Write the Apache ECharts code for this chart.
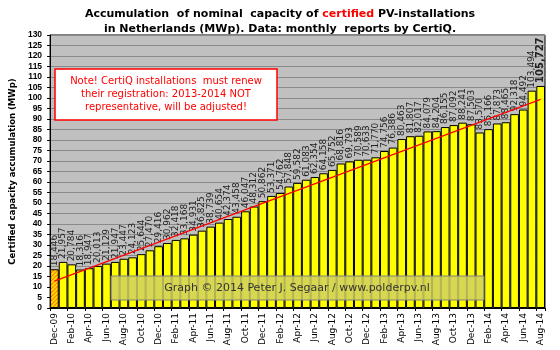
<!DOCTYPE html>
<html>
<head>
<meta charset="utf-8">
<script src="https://cdn.jsdelivr.net/npm/echarts@6/dist/echarts.min.js"></script>
<style>
  html, body { margin: 0; padding: 0; background: #fff; }
  #main { width: 560px; height: 350px; }
</style>
</head>
<body>
<div id="main"></div>
<script>
// months Dec-09 .. Aug-14
var months = [
  'Dec-09',
  'Jan-10', 'Feb-10', 'Mar-10', 'Apr-10', 'May-10', 'Jun-10', 'Jul-10', 'Aug-10', 'Sep-10', 'Oct-10', 'Nov-10', 'Dec-10',
  'Jan-11', 'Feb-11', 'Mar-11', 'Apr-11', 'May-11', 'Jun-11', 'Jul-11', 'Aug-11', 'Sep-11', 'Oct-11', 'Nov-11', 'Dec-11',
  'Jan-12', 'Feb-12', 'Mar-12', 'Apr-12', 'May-12', 'Jun-12', 'Jul-12', 'Aug-12', 'Sep-12', 'Oct-12', 'Nov-12', 'Dec-12',
  'Jan-13', 'Feb-13', 'Mar-13', 'Apr-13', 'May-13', 'Jun-13', 'Jul-13', 'Aug-13', 'Sep-13', 'Oct-13', 'Nov-13', 'Dec-13',
  'Jan-14', 'Feb-14', 'Mar-14', 'Apr-14', 'May-14', 'Jun-14', 'Jul-14', 'Aug-14'
];

// accumulated capacity (MWp)
var capacity = [
  18.446,
  21.957, 20.784, 18.316, 18.947, 20.013, 21.129, 21.947, 23.447, 24.123, 25.644, 27.470, 29.416,
  30.962, 32.418, 33.168, 34.931, 36.825, 38.739, 40.654, 42.374, 43.458, 46.047, 48.312, 50.862,
  53.371, 54.762, 57.848, 59.582, 61.083, 62.354, 64.158, 65.752, 68.816, 69.793, 70.589, 70.633,
  71.770, 74.756, 76.386, 80.463, 81.807, 82.017, 84.079, 84.204, 86.155, 87.092, 88.241, 87.503,
  83.570, 85.166, 87.873, 88.465, 92.318, 94.492, 103.494, 105.727
];

// linear trend, read at first and last month
var trendStart = 12.8;
var trendEnd = 99.3;

var yTicks = { min: 0, max: 130, step: 5 };

var lastIdx = capacity.length - 1;

function fmt(v) {
  return v.toFixed(3).replace('.', ',');
}

// orange diagonal hatch for the first month
function hatch() {
  var c = document.createElement('canvas');
  c.width = 4;
  c.height = 4;
  var ctx = c.getContext('2d');
  ctx.fillStyle = '#ffe000';
  ctx.fillRect(0, 0, 4, 4);
  ctx.strokeStyle = '#ff8000';
  ctx.lineWidth = 1.2;
  ctx.beginPath();
  ctx.moveTo(-1, 5); ctx.lineTo(5, -1);
  ctx.moveTo(-1, 1); ctx.lineTo(1, -1);
  ctx.moveTo(3, 5); ctx.lineTo(5, 3);
  ctx.stroke();
  return c;
}

var barData = capacity.map(function (v, i) {
  if (i === 0) {
    return { value: v, itemStyle: { color: { image: hatch(), repeat: 'repeat' } } };
  }
  if (i === lastIdx) {
    return { value: v, label: { fontWeight: 'bold', fontSize: 10 } };
  }
  return v;
});

var myChart = echarts.init(document.getElementById('main'));

var option = {
  backgroundColor: '#fff',
  animation: false,
  title: {
    left: 'center',
    top: 2,
    text: '{a|Accumulation  of nominal  capacity of }{r|certified}{a| PV-installations}\n{a|in Netherlands (MWp). Data: monthly  reports by CertiQ.}',
    textStyle: {
      rich: {
        a: { fontFamily: 'DejaVu Sans', fontWeight: 'bold', fontSize: 11, color: '#000', lineHeight: 15 },
        r: { fontFamily: 'DejaVu Sans', fontWeight: 'bold', fontSize: 11, color: '#ff0000', lineHeight: 15 }
      }
    }
  },
  grid: {
    left: 47,
    right: 15,
    top: 35,
    bottom: 42,
    show: true,
    backgroundColor: '#c0c0c0',
    borderColor: '#000',
    borderWidth: 1
  },
  xAxis: {
    type: 'category',
    data: months,
    axisLine: { lineStyle: { color: '#000' } },
    axisTick: { show: true, interval: 1, length: 3, lineStyle: { color: '#000' } },
    axisLabel: {
      interval: 1,
      rotate: 90,
      fontFamily: 'DejaVu Sans',
      fontSize: 9,
      color: '#000',
      margin: 5
    }
  },
  yAxis: {
    type: 'value',
    min: yTicks.min,
    max: yTicks.max,
    interval: yTicks.step,
    name: 'Certified capacity accumulation (MWp)',
    nameLocation: 'middle',
    nameGap: 33,
    nameTextStyle: { fontFamily: 'DejaVu Sans', fontWeight: 'bold', fontSize: 8.5, color: '#000' },
    axisLine: { show: true, lineStyle: { color: '#000' } },
    axisTick: { show: true, length: 3, lineStyle: { color: '#000' } },
    axisLabel: {
      fontFamily: 'Liberation Sans',
      fontWeight: 'bold',
      fontSize: 8.5,
      color: '#000',
      margin: 8
    },
    splitLine: { lineStyle: { color: '#8a8a8a', width: 1 } }
  },
  series: [{
    name: 'Capacity',
    type: 'bar',
    data: barData,
    barCategoryGap: '0%',
    itemStyle: {
      color: '#ffff00',
      borderColor: '#000',
      borderWidth: 1
    },
    label: {
      show: true,
      position: 'top',
      rotate: 90,
      align: 'left',
      verticalAlign: 'middle',
      distance: 3,
      fontFamily: 'DejaVu Sans',
      fontSize: 9,
      color: '#222',
      formatter: function (p) { return fmt(p.value); }
    },
    markLine: {
      silent: true,
      symbol: 'none',
      animation: false,
      label: { show: false },
      lineStyle: { color: '#ff0000', width: 1.3, type: 'solid' },
      data: [[
        { coord: [months[0], trendStart] },
        { coord: [months[lastIdx], trendEnd] }
      ]]
    }
  }],
  graphic: [
    {
      type: 'rect',
      shape: { x: 55, y: 69, width: 222, height: 51 },
      style: { fill: '#fff', stroke: '#ff0000', lineWidth: 1.5 },
      z: 10
    },
    {
      type: 'text',
      x: 166,
      y: 94.5,
      style: {
        text: 'Note! CertiQ installations  must renew\ntheir registration: 2013-2014 NOT\nrepresentative, will be adjusted!',
        fill: '#ff0000',
        fontFamily: 'DejaVu Sans',
        fontSize: 10,
        lineHeight: 13,
        align: 'center',
        verticalAlign: 'middle'
      },
      z: 11
    },
    {
      type: 'rect',
      shape: { x: 111, y: 276, width: 373, height: 24 },
      style: { fill: 'rgba(208,208,96,0.85)', stroke: '#808080', lineWidth: 1 },
      z: 10
    },
    {
      type: 'text',
      x: 297,
      y: 288,
      style: {
        text: 'Graph \u00a9 2014 Peter J. Segaar / www.polderpv.nl',
        fill: '#333',
        fontFamily: 'DejaVu Sans',
        fontSize: 11,
        align: 'center',
        verticalAlign: 'middle'
      },
      z: 11
    }
  ]
};

myChart.setOption(option);
</script>
</body>
</html>
